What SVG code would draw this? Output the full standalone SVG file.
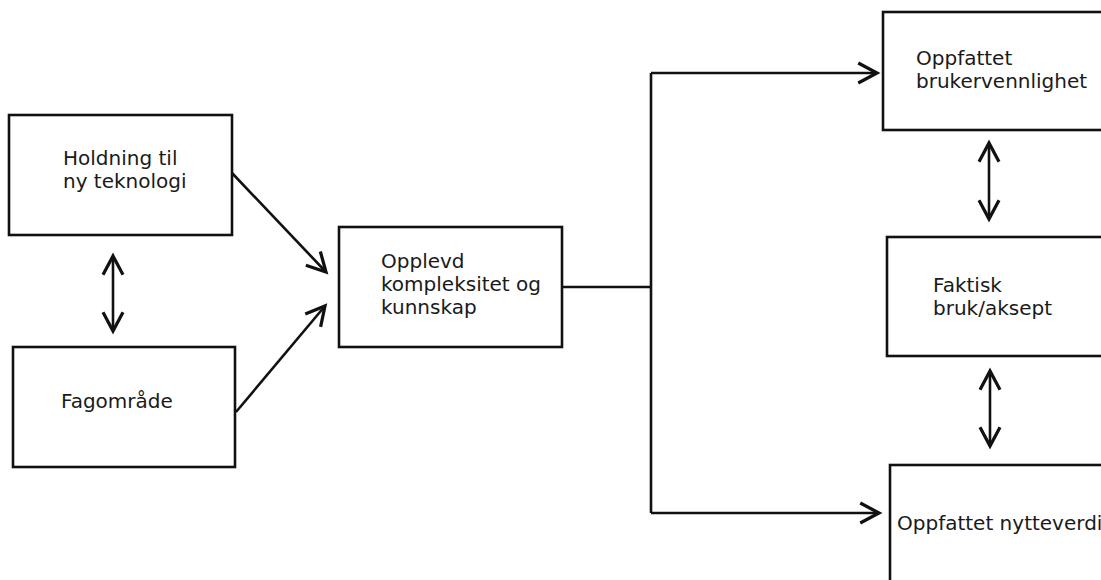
<svg xmlns="http://www.w3.org/2000/svg" width="1101" height="580" viewBox="0 0 1101 580">
<style>
.box{fill:#fff;stroke:#111;stroke-width:2.6}
.lbl{font-family:"DejaVu Sans",Verdana,sans-serif;font-size:20px;fill:#1a1a1a}
.con{fill:none;stroke:#111;stroke-width:2.6}
</style>
<defs>
<marker id="ah" markerUnits="userSpaceOnUse" markerWidth="30" markerHeight="30" viewBox="-20 -12 24 24" refX="0" refY="0" orient="auto-start-reverse">
<path d="M-15 -8 L0 0 L-15 8" fill="none" stroke="#111" stroke-width="2.6"/>
</marker>
</defs>
<rect width="1101" height="580" fill="#fff"/>
<g id="connectors">
<path class="con" d="M232 173 L326 272" marker-end="url(#ah)"/>
<path class="con" d="M236 412 L325 306" marker-end="url(#ah)"/>
<path class="con" d="M113 256 L113 331" marker-start="url(#ah)" marker-end="url(#ah)"/>
<path class="con" d="M562 287 L651 287"/>
<path class="con" d="M651 73 L651 513"/>
<path class="con" d="M651 73 L877 73" marker-end="url(#ah)"/>
<path class="con" d="M651 513 L879 513" marker-end="url(#ah)"/>
<path class="con" d="M989 143 L989 219" marker-start="url(#ah)" marker-end="url(#ah)"/>
<path class="con" d="M990 371 L990 446" marker-start="url(#ah)" marker-end="url(#ah)"/>
</g>
<g id="holdning">
<rect class="box" x="9" y="115" width="223" height="120"/>
<text class="lbl" x="63" y="165">Holdning til</text>
<text class="lbl" x="63" y="188">ny teknologi</text>
</g>
<g id="fagomrade">
<rect class="box" x="13" y="347" width="222" height="120"/>
<text class="lbl" x="61" y="408">Fagområde</text>
</g>
<g id="opplevd">
<rect class="box" x="339" y="227" width="223" height="120"/>
<text class="lbl" x="381" y="268">Opplevd</text>
<text class="lbl" x="381" y="291">kompleksitet og</text>
<text class="lbl" x="381" y="314">kunnskap</text>
</g>
<g id="brukervennlighet">
<rect class="box" x="883" y="12" width="240" height="118"/>
<text class="lbl" x="916" y="65">Oppfattet</text>
<text class="lbl" x="916" y="88">brukervennlighet</text>
</g>
<g id="faktisk">
<rect class="box" x="887" y="237" width="240" height="119"/>
<text class="lbl" x="933" y="292">Faktisk</text>
<text class="lbl" x="933" y="315">bruk/aksept</text>
</g>
<g id="nytteverdi">
<rect class="box" x="890" y="465" width="240" height="140"/>
<text class="lbl" x="897" y="530">Oppfattet nytteverdi</text>
</g>
</svg>
